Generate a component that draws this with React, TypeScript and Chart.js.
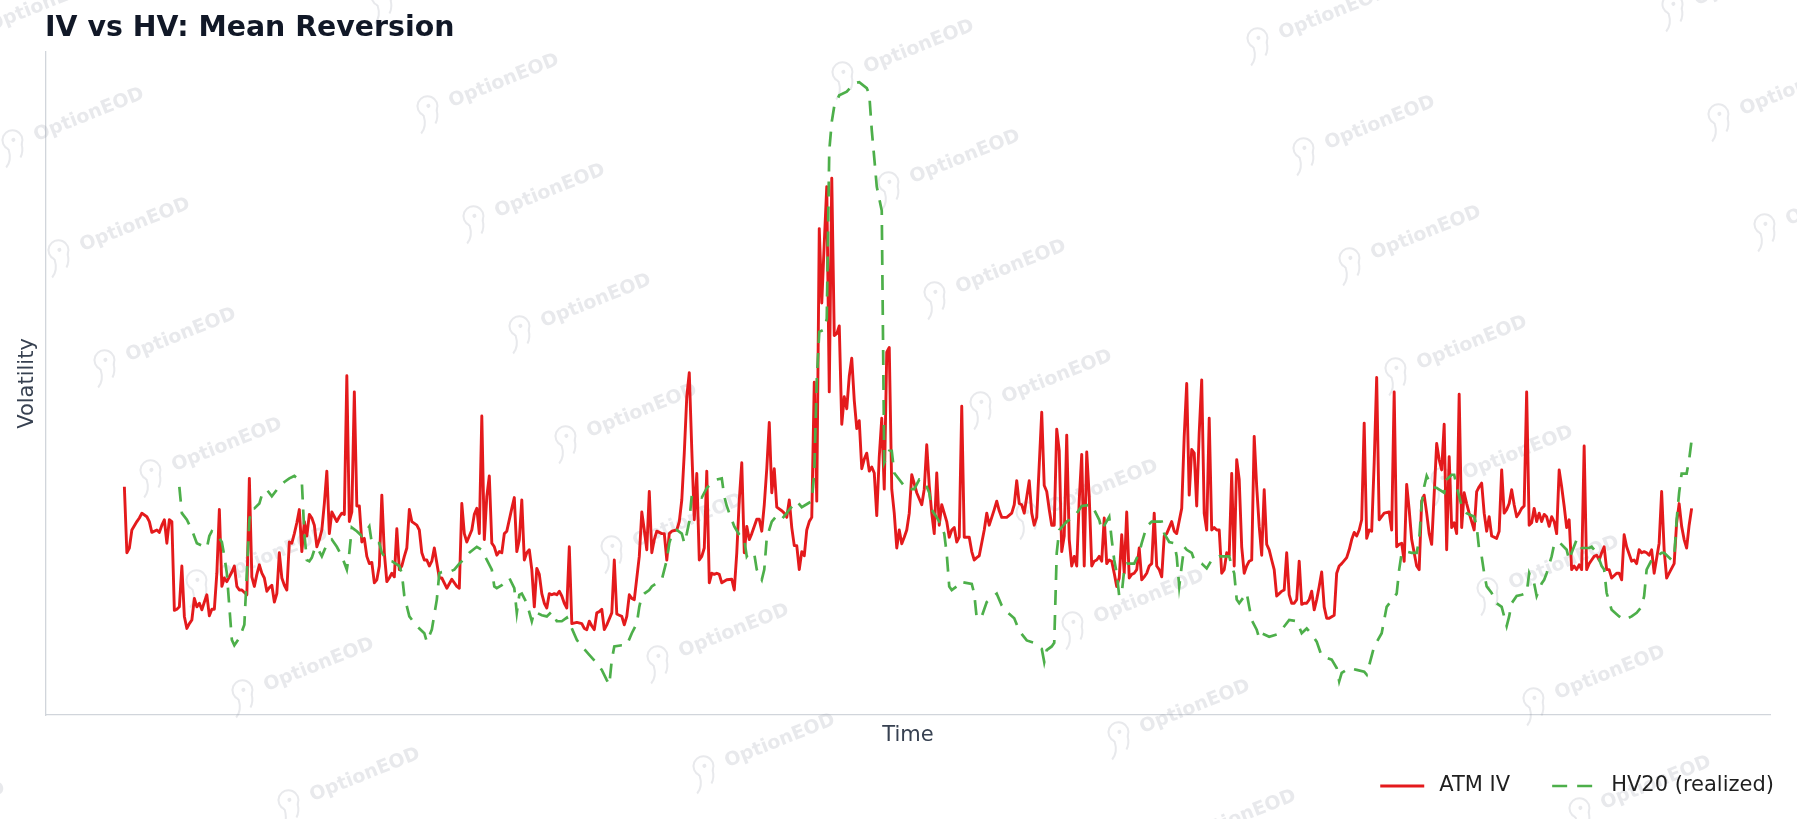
import React, { useEffect, useRef } from "react";
import { Chart, registerables } from "chart.js";

Chart.register(...registerables);

const TITLE = "IV vs HV: Mean Reversion";
const X_LABEL = "Time";
const Y_LABEL = "Volatility";
const IV_LABEL = "ATM IV";
const HV_LABEL = "HV20 (realized)";
const WATERMARK = "OptionEOD";

// ATM implied volatility (%), by trading day
const ivDays = [
  0, 1, 2, 3, 5, 6, 7, 9, 10, 11,
  13, 14, 15, 16, 17, 18, 19, 20, 21, 22,
  23, 24, 25, 26, 27, 28, 29, 30, 31, 32,
  33, 34, 35, 36, 37, 38, 39, 40, 41, 43,
  44, 45, 46, 47, 49, 50, 51, 52, 53, 54,
  55, 56, 57, 58, 59, 60, 61, 62, 63, 64,
  65, 66, 67, 68, 69, 70, 71, 72, 73, 74,
  75, 76, 77, 78, 79, 80, 81, 82, 83, 84,
  85, 86, 87, 88, 89, 90, 91, 92, 93, 94,
  95, 96, 97, 98, 99, 100, 101, 102, 103, 104,
  105, 106, 107, 108, 109, 110, 111, 112, 113, 114,
  115, 117, 118, 119, 120, 121, 122, 123, 124, 126,
  127, 129, 131, 133, 134, 135, 136, 137, 139, 140,
  141, 142, 143, 144, 145, 146, 147, 148, 149, 150,
  151, 152, 153, 155, 156, 157, 158, 159, 160, 161,
  162, 163, 164, 165, 166, 167, 168, 169, 170, 171,
  172, 173, 174, 175, 176, 177, 178, 179, 181, 183,
  184, 185, 186, 187, 188, 189, 190, 191, 192, 193,
  195, 196, 197, 198, 199, 200, 201, 202, 203, 204,
  206, 207, 208, 209, 210, 211, 212, 213, 215, 216,
  217, 218, 219, 221, 222, 223, 224, 225, 226, 227,
  228, 229, 230, 231, 232, 233, 234, 235, 236, 237,
  238, 239, 241, 243, 244, 245, 246, 247, 248, 249,
  250, 251, 253, 254, 255, 256, 257, 258, 259, 260,
  261, 263, 264, 265, 266, 267, 268, 269, 270, 271,
  272, 273, 274, 275, 276, 277, 278, 279, 280, 281,
  282, 283, 284, 285, 286, 287, 288, 289, 290, 291,
  292, 293, 294, 295, 296, 297, 298, 299, 300, 301,
  302, 303, 304, 305, 306, 307, 308, 309, 310, 311,
  312, 313, 314, 315, 317, 319, 320, 321, 322, 323,
  324, 325, 326, 327, 328, 329, 330, 331, 332, 333,
  334, 335, 336, 337, 338, 339, 340, 341, 342, 344,
  345, 346, 348, 349, 350, 351, 353, 355, 356, 357,
  358, 359, 360, 362, 363, 364, 365, 367, 368, 369,
  370, 371, 372, 373, 374, 375, 376, 377, 378, 379,
  380, 381, 382, 383, 384, 385, 386, 387, 388, 389,
  390, 391, 392, 393, 394, 395, 396, 397, 398, 399,
  400, 401, 402, 403, 404, 405, 406, 407, 408, 409,
  410, 411, 412, 413, 414, 415, 416, 417, 418, 419,
  420, 421, 423, 424, 425, 426, 427, 428, 429, 430,
  431, 432, 433, 434, 435, 436, 437, 438, 439, 440,
  441, 442, 443, 444, 445, 446, 447, 448, 449, 450,
  451, 452, 453, 454, 455, 456, 457, 458, 459, 460,
  461, 462, 463, 464, 465, 466, 467, 468, 469, 470,
  471, 472, 473, 474, 475, 476, 477, 478, 479, 480,
  481, 482, 484, 485, 486, 487, 489, 490, 491, 492,
  493, 494, 495, 496, 497, 498, 499, 500, 501, 502,
  504, 506, 507, 508, 509, 510, 511, 512, 513, 514,
  515, 517, 518, 519, 520, 521, 522, 523, 525, 526,
  527, 528, 529, 530, 531, 532, 533, 534, 535, 536,
  537, 538, 539, 540, 541, 542, 543, 544, 545, 546,
  547, 549, 550, 551, 552, 553, 554, 555, 556, 557,
  558, 559, 560, 561, 562, 563, 564, 565, 566, 567,
  568, 569, 570, 571, 572, 573, 574, 575, 576, 577,
  578, 579, 580, 581, 582, 583, 584, 585, 586, 587,
  588, 589, 590, 591, 592, 593, 594, 595, 597, 598,
  599, 600, 601, 603, 604, 605, 606, 607, 608, 609,
  610, 611, 612, 614, 615, 616, 617, 618, 620, 621,
  622, 623, 624, 625, 626, 627,
];
const ivVals = [
  27.0, 21.5, 21.9, 23.4, 24.1, 24.4, 24.8, 24.5, 24.1, 23.2,
  23.4, 23.2, 23.8, 24.25, 22.3, 24.25, 24.1, 16.7, 16.8, 17.0,
  20.4, 16.2, 15.2, 15.6, 15.9, 17.7, 17.0, 17.3, 16.75, 17.4,
  18.0, 16.25, 16.8, 16.8, 19.8, 25.1, 18.7, 19.4, 19.1, 19.9,
  20.4, 18.7, 18.4, 18.4, 18.0, 27.7, 19.5, 18.7, 19.7, 20.5,
  19.8, 19.4, 18.3, 18.6, 18.8, 17.4, 18.1, 21.5, 19.4, 18.8,
  18.4, 22.4, 22.3, 23.1, 24.0, 25.1, 21.6, 24.1, 22.9, 24.7,
  24.4, 23.8, 22.0, 22.6, 23.4, 25.6, 28.3, 23.1, 24.9, 24.5,
  24.1, 24.5, 24.8, 24.7, 36.25, 24.1, 24.9, 34.9, 25.4, 25.4,
  22.4, 22.7, 21.2, 20.6, 20.7, 19.0, 19.25, 20.4, 26.3, 21.5,
  19.1, 19.4, 19.8, 19.5, 23.5, 20.1, 20.4, 21.2, 21.9, 25.1,
  24.1, 23.8, 23.4, 21.5, 20.9, 20.9, 20.4, 20.8, 21.9, 19.4,
  19.4, 18.55, 19.3, 18.7, 18.55, 25.6, 23.1, 22.4, 23.4, 24.7,
  25.2, 23.1, 32.9, 22.6, 26.2, 27.9, 22.3, 22.0, 21.3, 21.6,
  21.5, 23.1, 23.3, 25.2, 26.1, 21.6, 22.6, 25.9, 20.9, 21.5,
  21.75, 20.1, 17.0, 20.2, 19.7, 18.1, 17.3, 16.9, 18.1, 18.0,
  18.1, 18.0, 18.3, 17.9, 17.3, 16.9, 22.0, 15.6, 15.7, 15.6,
  15.2, 15.1, 15.8, 15.4, 15.1, 16.5, 16.6, 16.8, 15.1, 15.5,
  16.5, 20.9, 16.4, 16.3, 16.2, 15.5, 16.2, 18.0, 17.7, 17.6,
  21.2, 24.9, 23.4, 21.75, 26.6, 21.5, 22.6, 23.3, 23.1, 23.1,
  20.9, 23.1, 23.3, 23.4, 24.1, 25.9, 29.8, 34.5, 36.5, 30.1,
  24.25, 28.1, 20.9, 21.2, 21.9, 28.3, 19.0, 19.8, 19.7, 19.8,
  19.7, 19.0, 19.25, 19.3, 18.4, 21.5, 25.9, 29.0, 21.5, 23.7,
  22.6, 23.1, 24.3, 24.3, 23.3, 25.5, 28.5, 32.35, 26.5, 28.5,
  25.3, 25.0, 24.8, 24.45, 25.9, 23.6, 22.1, 22.1, 20.1, 21.6,
  21.25, 23.4, 24.1, 24.45, 35.7, 25.8, 48.5, 42.3, 47.3, 52.0,
  34.9, 52.7, 39.6, 39.75, 40.4, 32.2, 34.5, 33.5, 36.2, 37.7,
  34.2, 31.85, 32.5, 28.5, 29.3, 29.8, 28.3, 28.65, 28.15, 24.6,
  29.5, 32.7, 26.8, 38.2, 38.6, 26.8, 24.8, 21.9, 23.4, 22.25,
  22.8, 23.4, 24.8, 28.0, 26.5, 25.5, 26.8, 30.5, 27.1, 24.8,
  23.1, 28.15, 23.8, 25.5, 24.8, 24.1, 22.8, 23.4, 23.6, 22.4,
  22.8, 33.7, 22.8, 22.8, 22.8, 21.6, 20.9, 21.1, 21.25, 23.4,
  24.8, 23.8, 25.1, 25.8, 25.0, 24.45, 24.45, 24.8, 25.5, 27.5,
  25.6, 25.5, 24.8, 27.5, 24.8, 23.8, 24.45, 33.2, 27.1, 26.6,
  25.1, 23.8, 23.8, 31.8, 30.0, 21.6, 22.9, 31.3, 22.6, 20.4,
  21.2, 20.4, 25.9, 29.7, 20.4, 29.9, 26.2, 20.4, 20.8, 20.9,
  21.2, 20.8, 24.4, 20.6, 20.9, 20.8, 19.8, 18.7, 19.4, 23.0,
  19.8, 24.9, 19.4, 19.7, 19.8, 20.1, 21.9, 19.25, 19.5, 19.8,
  20.4, 20.6, 24.8, 20.4, 20.1, 19.5, 22.9, 23.1, 23.6, 24.1,
  23.3, 23.1, 25.2, 31.2, 35.6, 26.3, 30.1, 29.8, 25.4, 31.5,
  35.9, 24.8, 23.4, 32.7, 23.4, 23.6, 23.4, 23.4, 19.8, 20.1,
  21.5, 21.3, 28.1, 20.4, 29.25, 27.6, 22.0, 19.8, 20.4, 20.8,
  20.9, 31.2, 27.0, 23.7, 21.3, 26.75, 22.2, 21.75, 20.9, 20.1,
  17.9, 18.1, 18.3, 18.4, 21.5, 18.0, 17.3, 17.3, 17.6, 20.8,
  17.2, 17.3, 17.3, 17.6, 18.3, 16.75, 17.6, 18.7, 19.9, 17.0,
  16.05, 16.05, 16.3, 19.8, 20.4, 20.6, 21.1, 21.75, 22.6, 23.2,
  22.9, 23.4, 24.25, 32.3, 22.7, 23.4, 23.3, 29.0, 36.1, 24.25,
  24.8, 24.9, 23.4, 34.9, 22.0, 22.2, 22.3, 20.8, 27.2, 25.1,
  22.6, 20.4, 20.1, 25.8, 26.3, 24.8, 23.1, 22.2, 30.6, 29.25,
  28.4, 32.2, 21.75, 29.5, 23.6, 24.0, 23.1, 34.7, 23.6, 26.5,
  25.6, 24.8, 24.1, 23.4, 26.6, 27.0, 27.3, 24.8, 23.3, 24.5,
  22.9, 22.7, 23.3, 28.4, 24.8, 25.1, 25.6, 26.75, 25.5, 24.5,
  24.8, 25.2, 25.4, 34.9, 23.8, 24.0, 25.2, 24.1, 24.8, 24.1,
  24.7, 24.5, 23.7, 24.5, 24.1, 23.1, 28.4, 27.0, 25.4, 23.6,
  24.25, 20.1, 20.4, 20.1, 20.5, 20.1, 30.4, 20.1, 20.6, 20.9,
  21.2, 21.3, 20.9, 21.5, 22.0, 20.1, 20.1, 19.4, 19.8, 19.8,
  19.25, 23.0, 22.0, 20.8, 20.9, 20.6, 21.75, 21.5, 21.6, 21.5,
  21.3, 21.75, 19.8, 22.3, 26.6, 21.75, 19.4, 19.8, 20.6, 24.0,
  25.6, 23.7, 22.6, 21.9, 23.8, 25.2,
];

// 20-day realized volatility (%), by trading day
const hvDays = [
  22, 23, 25, 27, 29, 33, 34, 35, 37, 39,
  40, 41, 42, 43, 44, 46, 48, 49, 50, 51,
  52, 54, 55, 57, 59, 61, 64, 66, 68, 71,
  72, 73, 74, 75, 76, 77, 79, 81, 83, 85,
  87, 89, 90, 91, 93, 95, 97, 98, 99, 102,
  103, 105, 107, 110, 111, 112, 114, 117, 120, 121,
  123, 125, 126, 127, 130, 132, 134, 135, 138, 141,
  143, 145, 147, 148, 149, 151, 154, 156, 157, 158,
  159, 161, 163, 164, 167, 169, 171, 173, 175, 177,
  179, 181, 183, 186, 189, 191, 193, 194, 195, 196,
  199, 201, 203, 205, 206, 207, 208, 210, 211, 215,
  217, 218, 219, 221, 223, 224, 225, 226, 227, 229,
  231, 233, 235, 237, 239, 240, 241, 242, 244, 246,
  248, 249, 250, 252, 253, 255, 256, 257, 259, 261,
  263, 265, 266, 269, 271, 275, 276, 277, 278, 280,
  281, 282, 283, 284, 286, 289, 292, 294, 297, 298,
  299, 300, 301, 303, 304, 306, 307, 308, 310, 313,
  316, 318, 320, 322, 323, 325, 326, 327, 328, 329,
  330, 331, 333, 334, 339, 340, 341, 343, 345, 349,
  351, 353, 356, 358, 361, 364, 367, 368, 369, 371,
  372, 373, 374, 377, 380, 383, 387, 390, 391, 394,
  395, 396, 397, 398, 399, 400, 401, 404, 406, 407,
  409, 411, 415, 416, 418, 420, 421, 422, 423, 424,
  425, 427, 428, 431, 433, 435, 438, 442, 443, 444,
  445, 446, 449, 450, 451, 453, 454, 455, 458, 461,
  463, 466, 469, 471, 473, 475, 477, 479, 483, 485,
  486, 487, 490, 493, 496, 497, 500, 503, 505, 509,
  510, 511, 513, 515, 517, 518, 519, 520, 521, 523,
  525, 528, 529, 531, 532, 533, 534, 535, 537, 540,
  541, 542, 543, 544, 545, 547, 549, 551, 552, 553,
  554, 555, 557, 559, 561, 562, 563, 564, 565, 567,
  568, 569, 571, 572, 574, 577, 578, 579, 581, 582,
  583, 586, 587, 589, 591, 592, 593, 595, 598, 600,
  603, 605, 607, 608, 609, 611, 615, 616, 619, 620,
  621, 622, 623, 625, 626, 627,
];
const hvVals = [
  27.0, 24.8, 24.25, 23.4, 22.3, 21.9, 22.9, 23.3, 23.0, 22.4,
  21.2, 19.8, 17.0, 14.25, 13.8, 14.4, 15.5, 19.8, 24.25, 25.2,
  25.2, 25.6, 26.3, 26.75, 26.2, 26.75, 27.4, 27.7, 27.9, 27.4,
  23.1, 20.9, 20.8, 21.1, 21.75, 22.0, 21.2, 22.2, 22.6, 22.0,
  21.2, 20.1, 21.5, 23.6, 23.3, 22.9, 23.4, 23.7, 22.3, 22.3,
  21.5, 20.9, 20.8, 20.4, 19.8, 17.9, 16.2, 15.4, 14.8, 14.1,
  15.1, 17.6, 19.8, 19.9, 19.9, 20.1, 20.6, 20.8, 21.5, 22.0,
  21.75, 20.9, 20.1, 18.7, 18.55, 18.8, 19.4, 18.55, 16.5, 18.0,
  18.1, 17.3, 15.8, 16.6, 16.3, 16.2, 16.6, 15.8, 15.8, 16.1,
  15.2, 14.25, 13.7, 13.0, 12.3, 11.75, 10.9, 10.5, 12.6, 13.7,
  13.8, 13.8, 14.8, 15.6, 17.0, 17.9, 18.1, 18.4, 18.7, 19.25,
  20.9, 22.3, 23.0, 23.4, 23.1, 22.3, 23.1, 24.1, 26.3, 26.2,
  26.1, 26.9, 27.3, 27.6, 27.7, 26.2, 25.4, 24.8, 23.7, 23.0,
  22.6, 21.2, 21.5, 21.4, 20.1, 19.25, 20.1, 22.75, 24.1, 24.6,
  24.3, 24.8, 25.1, 25.8, 25.3, 25.8, 28.15, 35.9, 39.9, 40.1,
  41.0, 55.0, 57.4, 58.7, 59.6, 59.9, 60.6, 60.7, 60.2, 59.7,
  56.7, 54.4, 52.0, 50.0, 29.0, 30.0, 30.0, 28.15, 27.6, 26.8,
  26.8, 27.6, 27.5, 26.5, 25.1, 24.45, 24.1, 23.6, 23.1, 21.4,
  18.7, 18.4, 18.7, 19.1, 18.9, 18.1, 16.05, 16.2, 17.4, 18.1,
  17.1, 16.6, 16.05, 15.0, 14.2, 14.0, 13.5, 12.4, 13.4, 13.7,
  14.0, 21.5, 23.4, 24.1, 24.5, 25.4, 25.5, 24.25, 23.4, 24.5,
  22.6, 20.9, 19.8, 17.9, 18.1, 20.1, 20.6, 20.6, 21.5, 22.3,
  23.7, 24.1, 24.1, 23.1, 22.4, 22.3, 21.2, 18.7, 20.4, 22.0,
  21.75, 21.5, 20.9, 20.6, 20.2, 20.9, 21.2, 21.2, 20.4, 19.8,
  17.6, 17.3, 18.15, 17.0, 15.9, 15.1, 14.4, 14.8, 14.5, 14.7,
  15.1, 15.9, 15.8, 14.8, 15.2, 14.7, 14.1, 12.9, 12.6, 11.9,
  10.8, 11.5, 11.9, 11.75, 11.6, 11.35, 13.7, 14.8, 17.0, 18.1,
  20.1, 21.5, 21.6, 21.5, 21.5, 22.6, 25.6, 27.0, 27.9, 27.0,
  26.9, 26.5, 27.6, 28.0, 28.0, 27.0, 26.2, 25.4, 24.8, 24.5,
  23.7, 21.75, 21.2, 19.8, 18.7, 18.15, 17.3, 17.0, 16.2, 15.4,
  16.2, 17.3, 17.9, 18.0, 18.15, 19.8, 19.25, 18.95, 17.9, 18.95,
  19.25, 19.8, 21.2, 22.2, 22.4, 21.75, 20.9, 21.5, 22.6, 22.3,
  21.9, 21.9, 22.0, 21.5, 20.4, 20.1, 18.15, 16.75, 16.2, 15.9,
  16.2, 16.5, 17.0, 17.9, 20.1, 20.9, 21.5, 21.5, 20.9, 21.1,
  24.25, 26.5, 28.1, 28.1, 29.25, 30.9,
];

const FONT = "'DejaVu Sans', 'Liberation Sans', sans-serif";
const IV_COLOR = "#e41a1c";
const HV_COLOR = "#4daf4a";

function toPoints(days: number[], vals: number[]) {
  return days.map((d, i) => ({ x: d, y: vals[i] }));
}

function paddedRange(values: number[]): [number, number] {
  const lo = Math.min(...values);
  const hi = Math.max(...values);
  const pad = (hi - lo) * 0.05;
  return [lo - pad, hi + pad];
}

const watermarkPlugin = {
  id: "watermark",
  beforeDatasetsDraw(chart: any) {
    const ctx = chart.ctx as CanvasRenderingContext2D;
    ctx.save();
    ctx.font = `bold 19px ${FONT}`;
    ctx.fillStyle = "rgba(150,156,168,0.22)";
    ctx.strokeStyle = "rgba(150,156,168,0.22)";
    ctx.textAlign = "center";
    ctx.textBaseline = "middle";
    const w = ctx.measureText(WATERMARK).width;
    for (let c = -1; c <= 5; c++) {
      for (let r = -2; r <= 8; r++) {
        const x = 89 + 415 * c + 46 * r;
        const y = 115 - 34 * c + 110 * r;
        if (x < -150 || x > chart.width + 150 || y < -40 || y > chart.height + 40) continue;
        ctx.save();
        ctx.translate(x, y);
        ctx.rotate(-0.38);
        ctx.fillText(WATERMARK, 0, 0);
        const ix = -w / 2 - 22;
        ctx.lineWidth = 2;
        ctx.beginPath();
        ctx.arc(ix, -5, 10, Math.PI * 0.75, Math.PI * 2.25);
        ctx.stroke();
        ctx.beginPath();
        ctx.moveTo(ix - 7, 2);
        ctx.quadraticCurveTo(ix - 8, 14, ix - 16, 18);
        ctx.stroke();
        ctx.beginPath();
        ctx.moveTo(ix + 7, 2);
        ctx.quadraticCurveTo(ix + 6, 10, ix + 1, 14);
        ctx.stroke();
        ctx.beginPath();
        ctx.arc(ix + 1, -5, 2, 0, Math.PI * 2);
        ctx.fill();
        ctx.restore();
      }
    }
    ctx.restore();
  },
};

const framePlugin = {
  id: "frameText",
  afterDraw(chart: any) {
    const ctx = chart.ctx as CanvasRenderingContext2D;
    const area = chart.chartArea;
    ctx.save();
    ctx.font = `bold 28.4px ${FONT}`;
    ctx.fillStyle = "#111827";
    ctx.textAlign = "left";
    ctx.textBaseline = "alphabetic";
    ctx.fillText(TITLE, area.left - 1, 35.5);

    ctx.font = `21px ${FONT}`;
    const y = chart.height - 33;
    const sample = 44;
    const gapText = 15;
    const gapItem = 42;
    const items = chart.data.datasets.map((ds: any) => ({
      text: ds.label as string,
      color: ds.borderColor as string,
      dash: (ds.borderDash || []) as number[],
      width: ds.borderWidth as number,
    }));
    let x = area.right + 4;
    const placed: any[] = [];
    for (let i = items.length - 1; i >= 0; i--) {
      const tw = ctx.measureText(items[i].text).width;
      const tx = x - tw;
      const lx1 = tx - gapText;
      const lx0 = lx1 - sample;
      placed.unshift({ ...items[i], tx, lx0, lx1 });
      x = lx0 - gapItem;
    }
    for (const p of placed) {
      ctx.beginPath();
      ctx.setLineDash(p.dash);
      ctx.strokeStyle = p.color;
      ctx.lineWidth = p.width;
      ctx.moveTo(p.lx0, y);
      ctx.lineTo(p.lx1, y);
      ctx.stroke();
      ctx.setLineDash([]);
      ctx.fillStyle = "#1f1f1f";
      ctx.textBaseline = "middle";
      ctx.fillText(p.text, p.tx, y);
    }
    ctx.restore();
  },
};

export default function App() {
  const canvasRef = useRef<HTMLCanvasElement | null>(null);

  useEffect(() => {
    if (!canvasRef.current) return;
    Chart.defaults.font.family = FONT;
    const [xMin, xMax] = paddedRange([...ivDays, ...hvDays]);
    const [yMin, yMax] = paddedRange([...ivVals, ...hvVals]);
    const chart = new Chart(canvasRef.current, {
      type: "line",
      data: {
        datasets: [
          {
            label: IV_LABEL,
            data: toPoints(ivDays, ivVals),
            borderColor: IV_COLOR,
            backgroundColor: IV_COLOR,
            borderWidth: 2.9,
            pointRadius: 0,
            tension: 0,
            borderJoinStyle: "round",
            fill: false,
            order: 1,
          },
          {
            label: HV_LABEL,
            data: toPoints(hvDays, hvVals),
            borderColor: HV_COLOR,
            backgroundColor: HV_COLOR,
            borderWidth: 2.7,
            borderDash: [15, 10],
            pointRadius: 0,
            tension: 0,
            fill: false,
            order: 0,
          },
        ],
      },
      options: {
        responsive: false,
        animation: false,
        layout: { padding: { top: 52, left: 0, right: 27, bottom: 64 } },
        plugins: {
          legend: { display: false },
          title: { display: false },
          tooltip: { enabled: false },
        },
        scales: {
          x: {
            type: "linear",
            min: xMin,
            max: xMax,
            grid: { display: false, drawTicks: false },
            ticks: { display: false },
            border: { display: true, color: "#d1d5db", width: 1.3 },
            title: {
              display: true,
              text: X_LABEL,
              color: "#374151",
              font: { size: 21, family: FONT },
              padding: { top: 0, bottom: 6.5 },
            },
            afterFit: (s: any) => {
              s.height = 40;
            },
          },
          y: {
            type: "linear",
            min: yMin,
            max: yMax,
            grid: { display: false, drawTicks: false },
            ticks: { display: false },
            border: { display: true, color: "#d1d5db", width: 1.3 },
            title: {
              display: true,
              text: Y_LABEL,
              color: "#374151",
              font: { size: 21, family: FONT },
              padding: { top: 14.5, bottom: 0 },
            },
            afterFit: (s: any) => {
              s.width = 46;
            },
          },
        },
      } as any,
      plugins: [watermarkPlugin, framePlugin],
    });
    return () => chart.destroy();
  }, []);

  return (
    <div style={{ position: "absolute", left: 0, top: 0, width: 1797, height: 819, background: "#ffffff" }}>
      <canvas ref={canvasRef} width={1797} height={819} style={{ width: 1797, height: 819, display: "block" }} />
    </div>
  );
}
